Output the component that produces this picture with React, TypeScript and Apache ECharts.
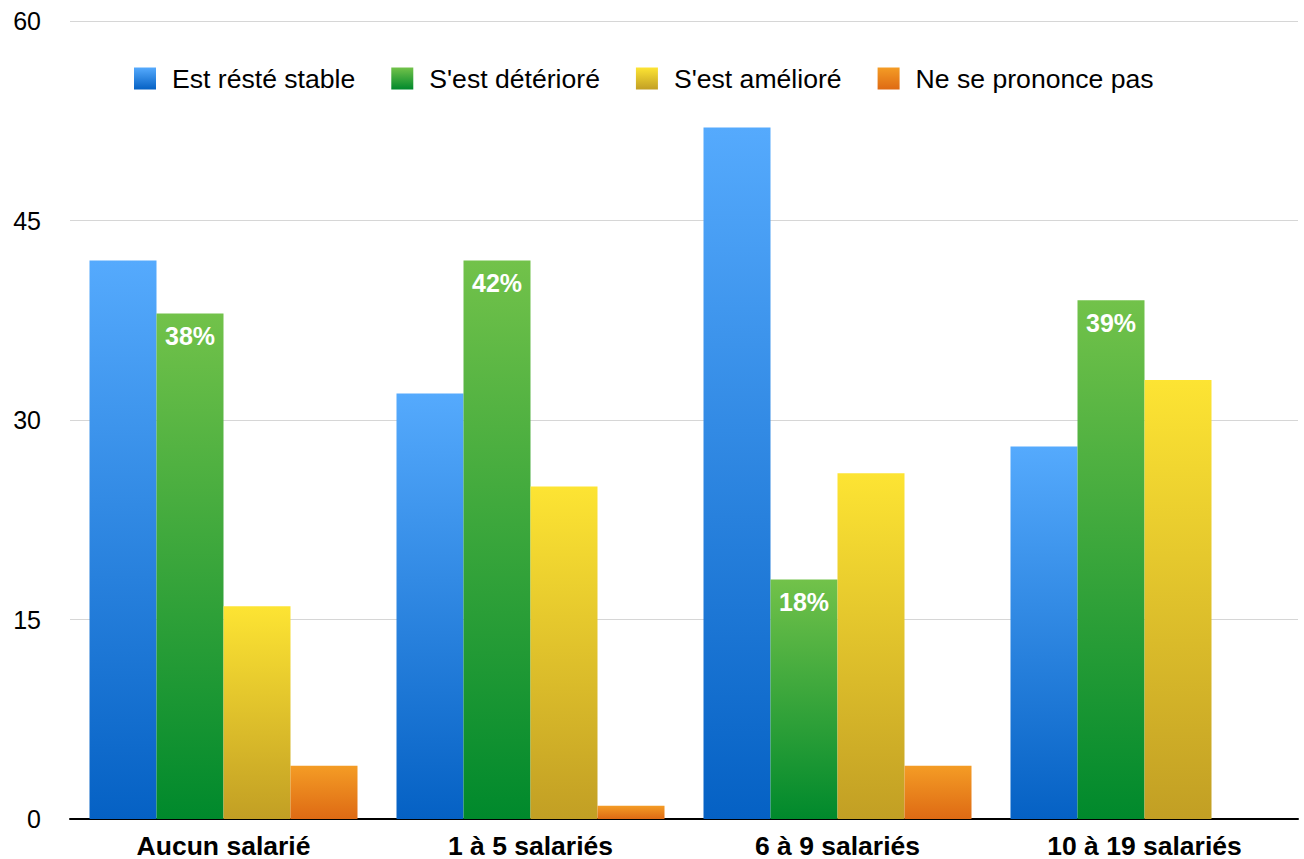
import React, { useEffect, useRef } from "react";
import * as echarts from "echarts";

const categories = ["Aucun salarié", "1 à 5 salariés", "6 à 9 salariés", "10 à 19 salariés"];
const seriesNames = ["Est résté stable", "S'est détérioré", "S'est amélioré", "Ne se prononce pas"];
const stable = [42, 32, 52, 28];
const deteriore = [38, 42, 18, 39];
const ameliore = [16, 25, 26, 33];
const nePas = [4, 1, 4, null];
const yTicks = { min: 0, max: 60, interval: 15 };

const gradients = [
  ["#55aafd", "#0561c4"],
  ["#72c24a", "#00892c"],
  ["#fde433", "#c29f24"],
  ["#f49c25", "#de6a14"],
];

const FONT = "'Liberation Sans', Arial, Helvetica, sans-serif";

function grad(c: string[]) {
  return new echarts.graphic.LinearGradient(0, 0, 0, 1, [
    { offset: 0, color: c[0] },
    { offset: 1, color: c[1] },
  ]);
}

export default function App() {
  const ref = useRef<HTMLDivElement>(null);
  useEffect(() => {
    if (!ref.current) return;
    const chart = echarts.init(ref.current, undefined, { renderer: "svg" });
    const values = [stable, deteriore, ameliore, nePas];
    chart.setOption({
      animation: false,
      backgroundColor: "#ffffff",
      textStyle: { fontFamily: FONT },
      legend: {
        left: 134,
        top: 65,
        padding: 0,
        itemWidth: 22,
        itemHeight: 22,
        itemGap: 36,
        icon: "rect",
        data: seriesNames,
        textStyle: { fontSize: 26.6, color: "#000", fontFamily: FONT, padding: [0, 0, 0, 11] },
      },
      grid: { left: 70, right: 6, top: 21, bottom: 38, containLabel: false },
      xAxis: {
        type: "category",
        data: categories,
        axisTick: { show: false },
        axisLine: { lineStyle: { color: "#000", width: 2 } },
        axisLabel: { color: "#000", fontWeight: "bold", fontSize: 26.5, margin: 13, fontFamily: FONT },
      },
      yAxis: {
        type: "value",
        min: yTicks.min,
        max: yTicks.max,
        interval: yTicks.interval,
        axisLine: { show: false },
        axisTick: { show: false },
        splitLine: { lineStyle: { color: "#d6d6d6", width: 1 } },
        axisLabel: { color: "#000", fontSize: 25, margin: 29, fontFamily: FONT },
      },
      series: seriesNames.map((name, i) => ({
        name,
        type: "bar",
        data: values[i],
        barWidth: 67,
        barGap: "0%",
        itemStyle: { color: grad(gradients[i]) },
        label:
          i === 1
            ? {
                show: true,
                position: "insideTop",
                distance: 10,
                formatter: "{c}%",
                color: "#fff",
                fontWeight: "bold",
                fontSize: 25,
                fontFamily: FONT,
              }
            : { show: false },
      })),
    });
    return () => chart.dispose();
  }, []);
  return (
    <div
      ref={ref}
      style={{ position: "absolute", left: 0, top: 0, width: 1304, height: 859 }}
    />
  );
}
